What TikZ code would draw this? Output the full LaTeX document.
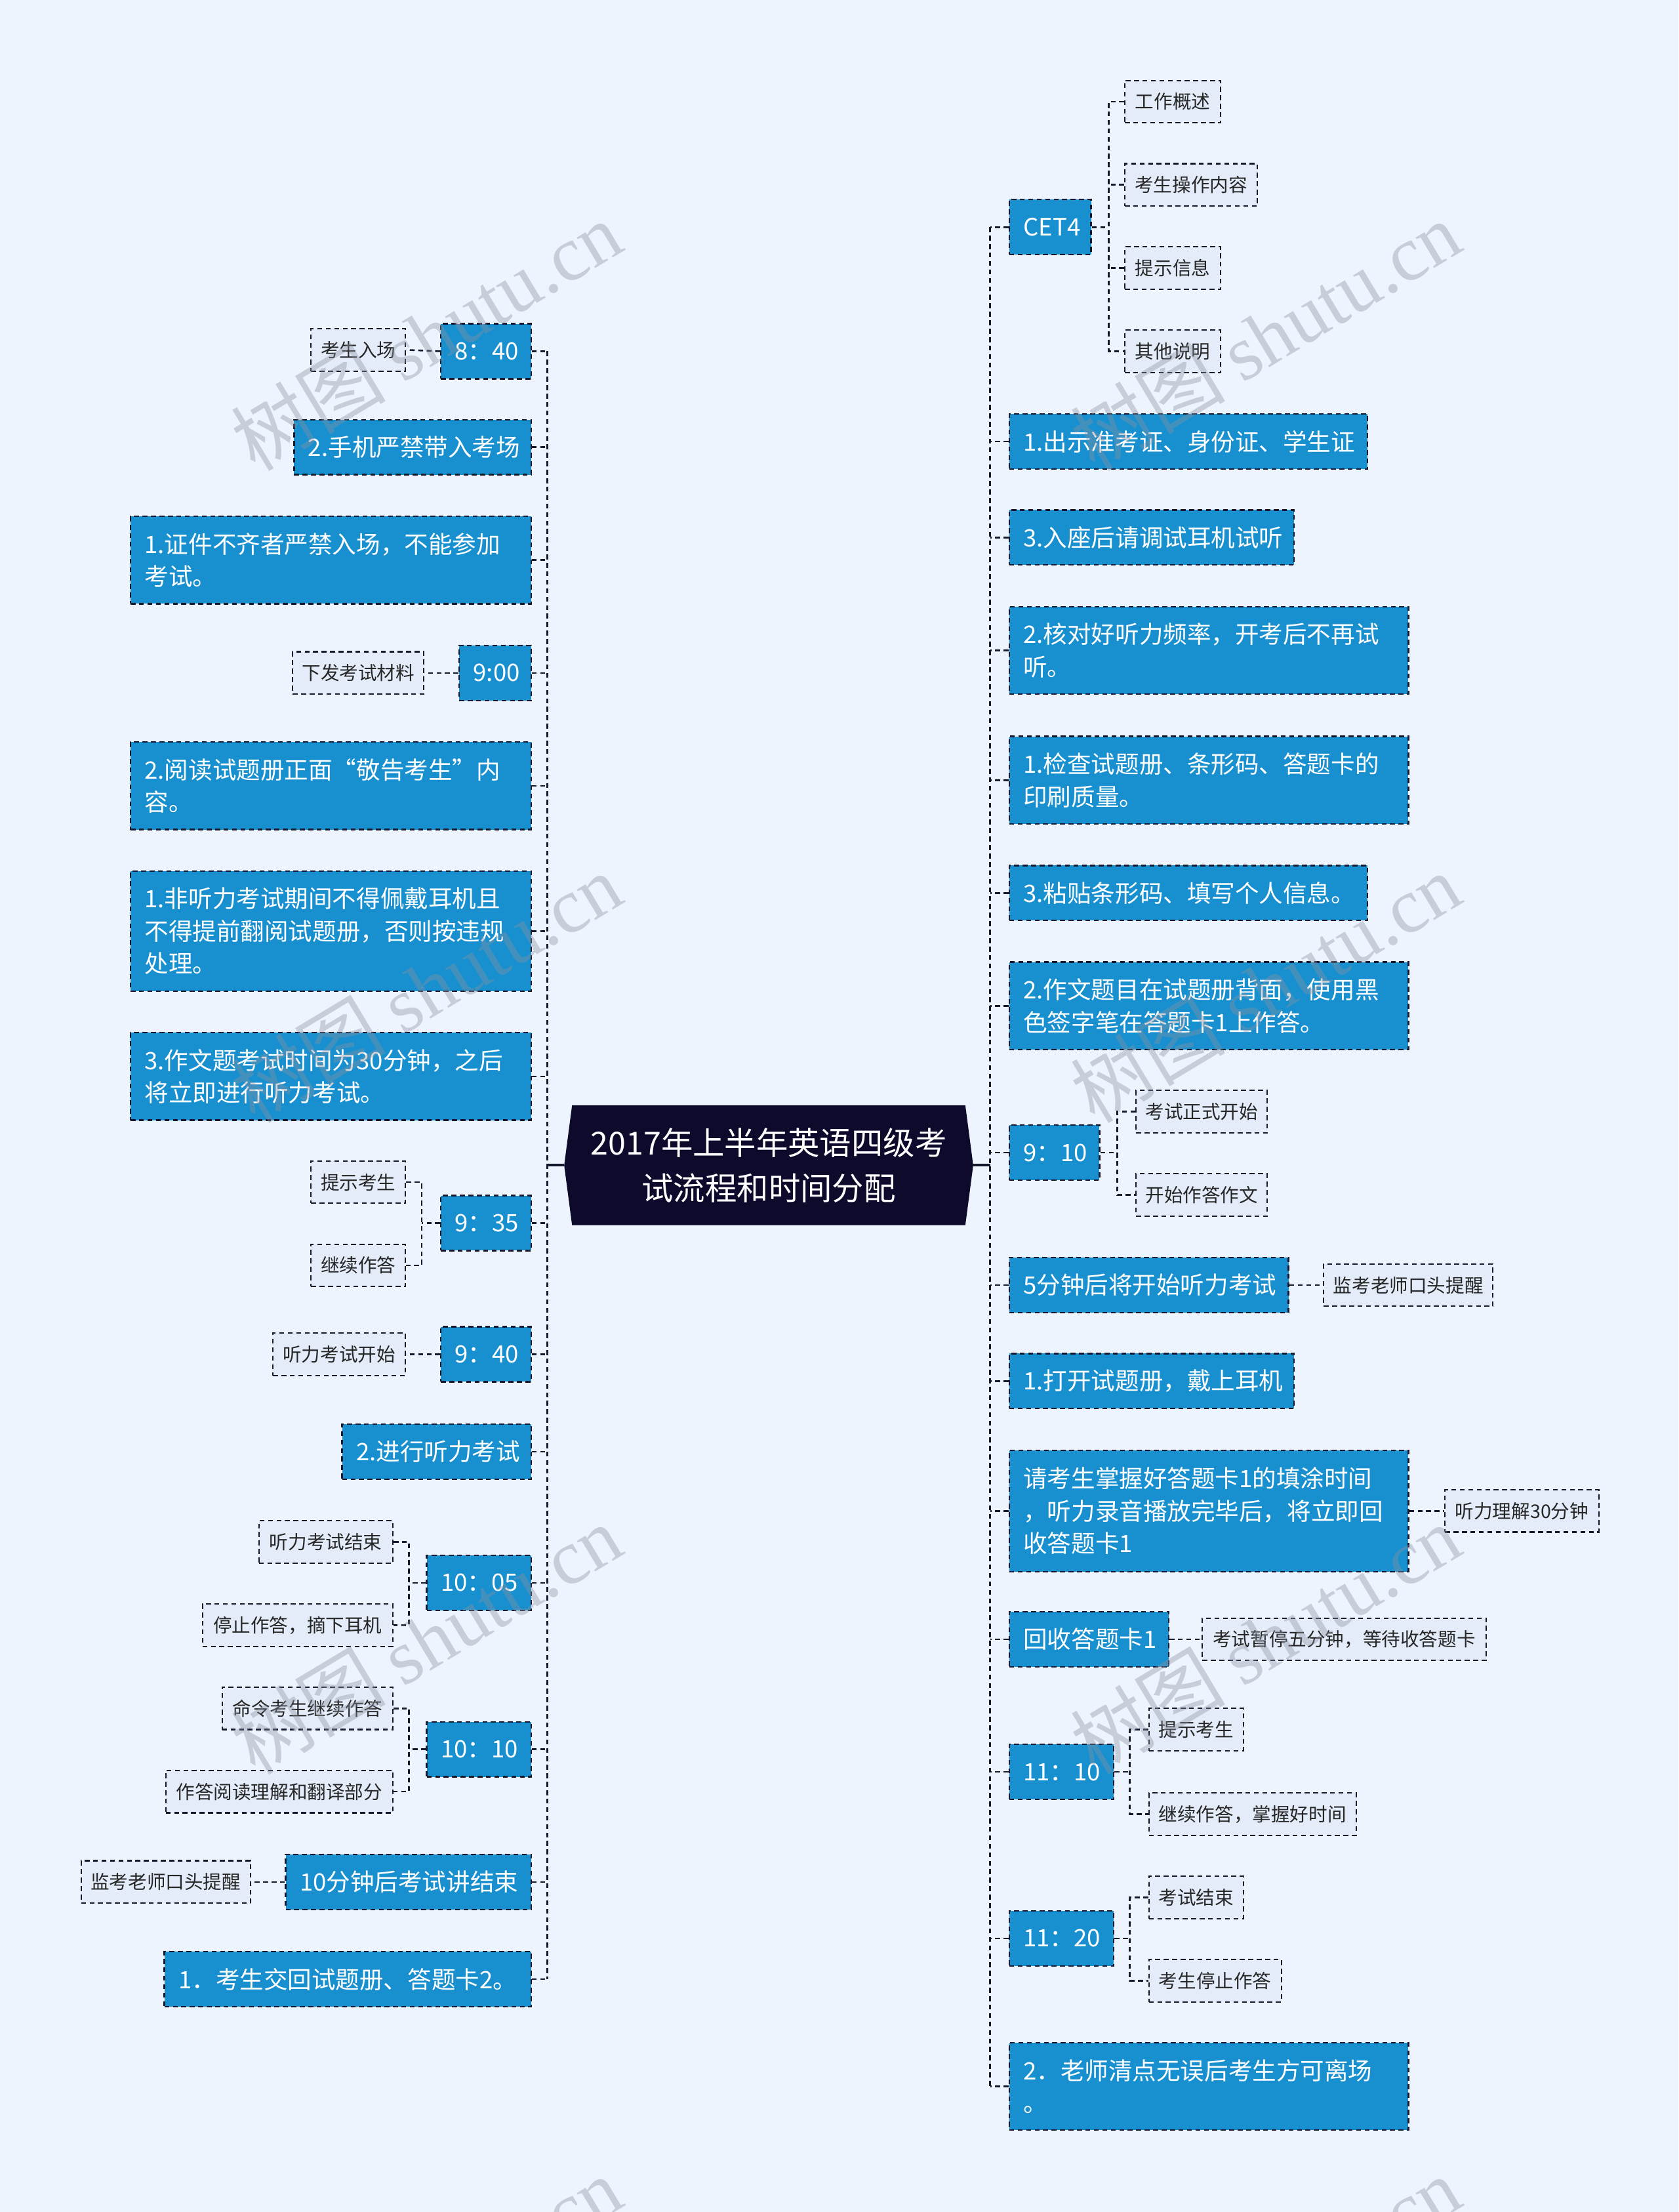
\documentclass[tikz,border=0pt]{standalone}
\usepackage{fontspec}
\setmainfont{Noto Sans CJK SC}
\newfontfamily\wmserif{Liberation Serif}
\usetikzlibrary{shapes.symbols}
\definecolor{bg}{HTML}{EEF4FE}
\definecolor{mblue}{HTML}{1890D0}
\definecolor{sfill}{HTML}{E4ECFA}
\definecolor{edgec}{HTML}{16182E}
\definecolor{cfill}{HTML}{0D0A2C}
\definecolor{wmc}{HTML}{8A909E}
\tikzset{
 mainbox/.style={draw=edgec, dash pattern=on 3.5pt off 2.5pt, line width=1.1pt, fill=mblue, text=white,
   font=\fontsize{17}{23}\selectfont, align=left, inner xsep=10pt, inner ysep=0pt, anchor=west, minimum height=39pt},
 subbox/.style={draw=edgec, dash pattern=on 3.5pt off 2.5pt, line width=1pt, fill=sfill, text=black!85,
   font=\fontsize{13.3}{16}\selectfont, inner xsep=0pt, inner ysep=0pt, minimum height=30pt, anchor=west},
 conn/.style={draw=edgec, dash pattern=on 3.5pt off 2.5pt, line width=1.2pt},
 wmark/.style={text=wmc, opacity=0.38, rotate=31, font=\fontsize{55}{60}\selectfont}
}
\begin{document}
\begin{tikzpicture}[x=1pt,y=-1pt]
\fill[bg] (0,0) rectangle (1190,1568);
\useasboundingbox (0,0) rectangle (1190,1568);
\coordinate (tl) at (388,826);
\coordinate (tr) at (702,826);

% centre
\node[signal, signal to=west and east, signal pointer angle=165, fill=cfill, text=white, minimum width=290pt,
  minimum height=85pt, align=center, font=\fontsize{22.5}{32}\selectfont, inner sep=0pt] (C) at (545,826)
  {2017年上半年英语四级考\\试流程和时间分配};

% left main nodes
\node[mainbox, text width=44pt] (L1) at (312,249) {8：40};
\node[mainbox, text width=148pt] (L2) at (208,317) {2.手机严禁带入考场};
\node[mainbox, text width=264pt, minimum height=62pt] (L3) at (92,397) {1.证件不齐者严禁入场，不能参加\\考试。};
\node[mainbox, text width=31pt] (L4) at (325,477) {9:00};
\node[mainbox, text width=264pt, minimum height=62pt] (L5) at (92,557) {2.阅读试题册正面“敬告考生”内\\容。};
\node[mainbox, text width=264pt, minimum height=85pt] (L6) at (92,660) {1.非听力考试期间不得佩戴耳机且\\不得提前翻阅试题册，否则按违规\\处理。};
\node[mainbox, text width=264pt, minimum height=62pt] (L7) at (92,763) {3.作文题考试时间为30分钟，之后\\将立即进行听力考试。};
\node[mainbox, text width=44pt] (L8) at (312,867) {9：35};
\node[mainbox, text width=44pt] (L9) at (312,960) {9：40};
\node[mainbox, text width=114pt] (L10) at (242,1029) {2.进行听力考试};
\node[mainbox, text width=54pt] (L11) at (302,1122) {10：05};
\node[mainbox, text width=54pt] (L12) at (302,1240) {10：10};
\node[mainbox, text width=154pt] (L13) at (202,1334) {10分钟后考试讲结束};
\node[mainbox, text width=240pt] (L14) at (116,1403) {1．考生交回试题册、答题卡2。};

% left children
\node[subbox, minimum width=67pt] (L1a) at (220,248) {考生入场};
\node[subbox, minimum width=93pt] (L4a) at (207,477) {下发考试材料};
\node[subbox, minimum width=67pt] (L8a) at (220,838) {提示考生};
\node[subbox, minimum width=67pt] (L8b) at (220,897) {继续作答};
\node[subbox, minimum width=94pt] (L9a) at (193,960) {听力考试开始};
\node[subbox, minimum width=95pt] (L11a) at (183,1093) {听力考试结束};
\node[subbox, minimum width=135pt] (L11b) at (143,1152) {停止作答，摘下耳机};
\node[subbox, minimum width=121pt] (L12a) at (157,1211) {命令考生继续作答};
\node[subbox, minimum width=161pt] (L12b) at (117,1270) {作答阅读理解和翻译部分};
\node[subbox, minimum width=120pt] (L13a) at (57,1334) {监考老师口头提醒};

% right main nodes
\node[mainbox, text width=38pt] (R1) at (715,161) {CET4};
\node[mainbox, text width=234pt] (R2) at (715,313) {1.出示准考证、身份证、学生证};
\node[mainbox, text width=182pt] (R3) at (715,381) {3.入座后请调试耳机试听};
\node[mainbox, text width=263pt, minimum height=62pt] (R4) at (715,461) {2.核对好听力频率，开考后不再试\\听。};
\node[mainbox, text width=263pt, minimum height=62pt] (R5) at (715,553) {1.检查试题册、条形码、答题卡的\\印刷质量。};
\node[mainbox, text width=234pt] (R6) at (715,633) {3.粘贴条形码、填写个人信息。};
\node[mainbox, text width=263pt, minimum height=62pt] (R7) at (715,713) {2.作文题目在试题册背面，使用黑\\色签字笔在答题卡1上作答。};
\node[mainbox, text width=44pt] (R8) at (715,817) {9：10};
\node[mainbox, text width=178pt] (R9) at (715,911) {5分钟后将开始听力考试};
\node[mainbox, text width=182pt] (R10) at (715,979) {1.打开试题册，戴上耳机};
\node[mainbox, text width=263pt, minimum height=86pt] (R11) at (715,1071) {请考生掌握好答题卡1的填涂时间\\，听力录音播放完毕后，将立即回\\收答题卡1};
\node[mainbox, text width=93pt] (R12) at (715,1162) {回收答题卡1};
\node[mainbox, text width=54pt] (R13) at (715,1256) {11：10};
\node[mainbox, text width=54pt] (R14) at (715,1374) {11：20};
\node[mainbox, text width=263pt, minimum height=62pt] (R15) at (715,1479) {2．老师清点无误后考生方可离场\\。};

% right children
\node[subbox, minimum width=68pt] (R1a) at (797,72) {工作概述};
\node[subbox, minimum width=94pt] (R1b) at (797,131) {考生操作内容};
\node[subbox, minimum width=68pt] (R1c) at (797,190) {提示信息};
\node[subbox, minimum width=68pt] (R1d) at (797,249) {其他说明};
\node[subbox, minimum width=93pt] (R8a) at (805,788) {考试正式开始};
\node[subbox, minimum width=93pt] (R8b) at (805,847) {开始作答作文};
\node[subbox, minimum width=120pt] (R9a) at (938,911) {监考老师口头提醒};
\node[subbox, minimum width=109pt] (R11a) at (1024,1071) {听力理解30分钟};
\node[subbox, minimum width=201pt] (R12a) at (852,1162) {考试暂停五分钟，等待收答题卡};
\node[subbox, minimum width=67pt] (R13a) at (814,1226) {提示考生};
\node[subbox, minimum width=147pt] (R13b) at (814,1286) {继续作答，掌握好时间};
\node[subbox, minimum width=67pt] (R14a) at (814,1345) {考试结束};
\node[subbox, minimum width=94pt] (R14b) at (814,1404) {考生停止作答};

% bracket coordinates
\coordinate (bL8) at (299,867);
\coordinate (bL11) at (290,1122);
\coordinate (bL12) at (290,1240);
\coordinate (bR1) at (786,161);
\coordinate (bR8) at (792,817);
\coordinate (bR13) at (801,1256);
\coordinate (bR14) at (801,1374);

% centre to trunks
\draw[edgec, line width=2pt] (C.west) -- (C.west -| tl);
\draw[edgec, line width=2pt] (C.east) -- (C.east -| tr);

% trunks
\draw[conn] (L1.east -| tl) -- (L14.east -| tl);
\draw[conn] (R1.west -| tr) -- (R15.west -| tr);
\foreach \n in {L1,L2,L3,L4,L5,L6,L7,L8,L9,L10,L11,L12,L13,L14}
  \draw[conn] (\n.east) -- (\n.east -| tl);
\foreach \n in {R1,R2,R3,R4,R5,R6,R7,R8,R9,R10,R11,R12,R13,R14,R15}
  \draw[conn] (\n.west) -- (\n.west -| tr);

% left children connectors
\draw[conn] (L1.west) -- (L1a.east);
\draw[conn] (L4.west) -- (L4a.east);
\draw[conn] (L9.west) -- (L9a.east);
\draw[conn] (L13.west) -- (L13a.east);
\draw[conn] (L8.west) -- (bL8);
\draw[conn] (L8a.east) -| (bL8) |- (L8b.east);
\draw[conn] (L11.west) -- (bL11);
\draw[conn] (L11a.east) -| (bL11) |- (L11b.east);
\draw[conn] (L12.west) -- (bL12);
\draw[conn] (L12a.east) -| (bL12) |- (L12b.east);

% right children connectors
\draw[conn] (R1.east) -- (bR1);
\draw[conn] (R1a.west) -| (bR1) |- (R1d.west);
\draw[conn] (R1b.west) -- (R1b.west -| bR1);
\draw[conn] (R1c.west) -- (R1c.west -| bR1);
\draw[conn] (R8.east) -- (bR8);
\draw[conn] (R8a.west) -| (bR8) |- (R8b.west);
\draw[conn] (R9.east) -- (R9a.west);
\draw[conn] (R11.east) -- (R11a.west);
\draw[conn] (R12.east) -- (R12a.west);
\draw[conn] (R13.east) -- (bR13);
\draw[conn] (R13a.west) -| (bR13) |- (R13b.west);
\draw[conn] (R14.east) -- (bR14);
\draw[conn] (R14a.west) -| (bR14) |- (R14b.west);

% watermarks
\foreach \i/\x/\y in {1/302/238, 2/897/238, 3/302/700, 4/897/700, 5/302/1162, 6/897/1162, 7/302/1624, 8/897/1624}
  \node[wmark] (wm\i) at (\x,\y) {树图 {\wmserif shutu.cn}};
\end{tikzpicture}
\end{document}
